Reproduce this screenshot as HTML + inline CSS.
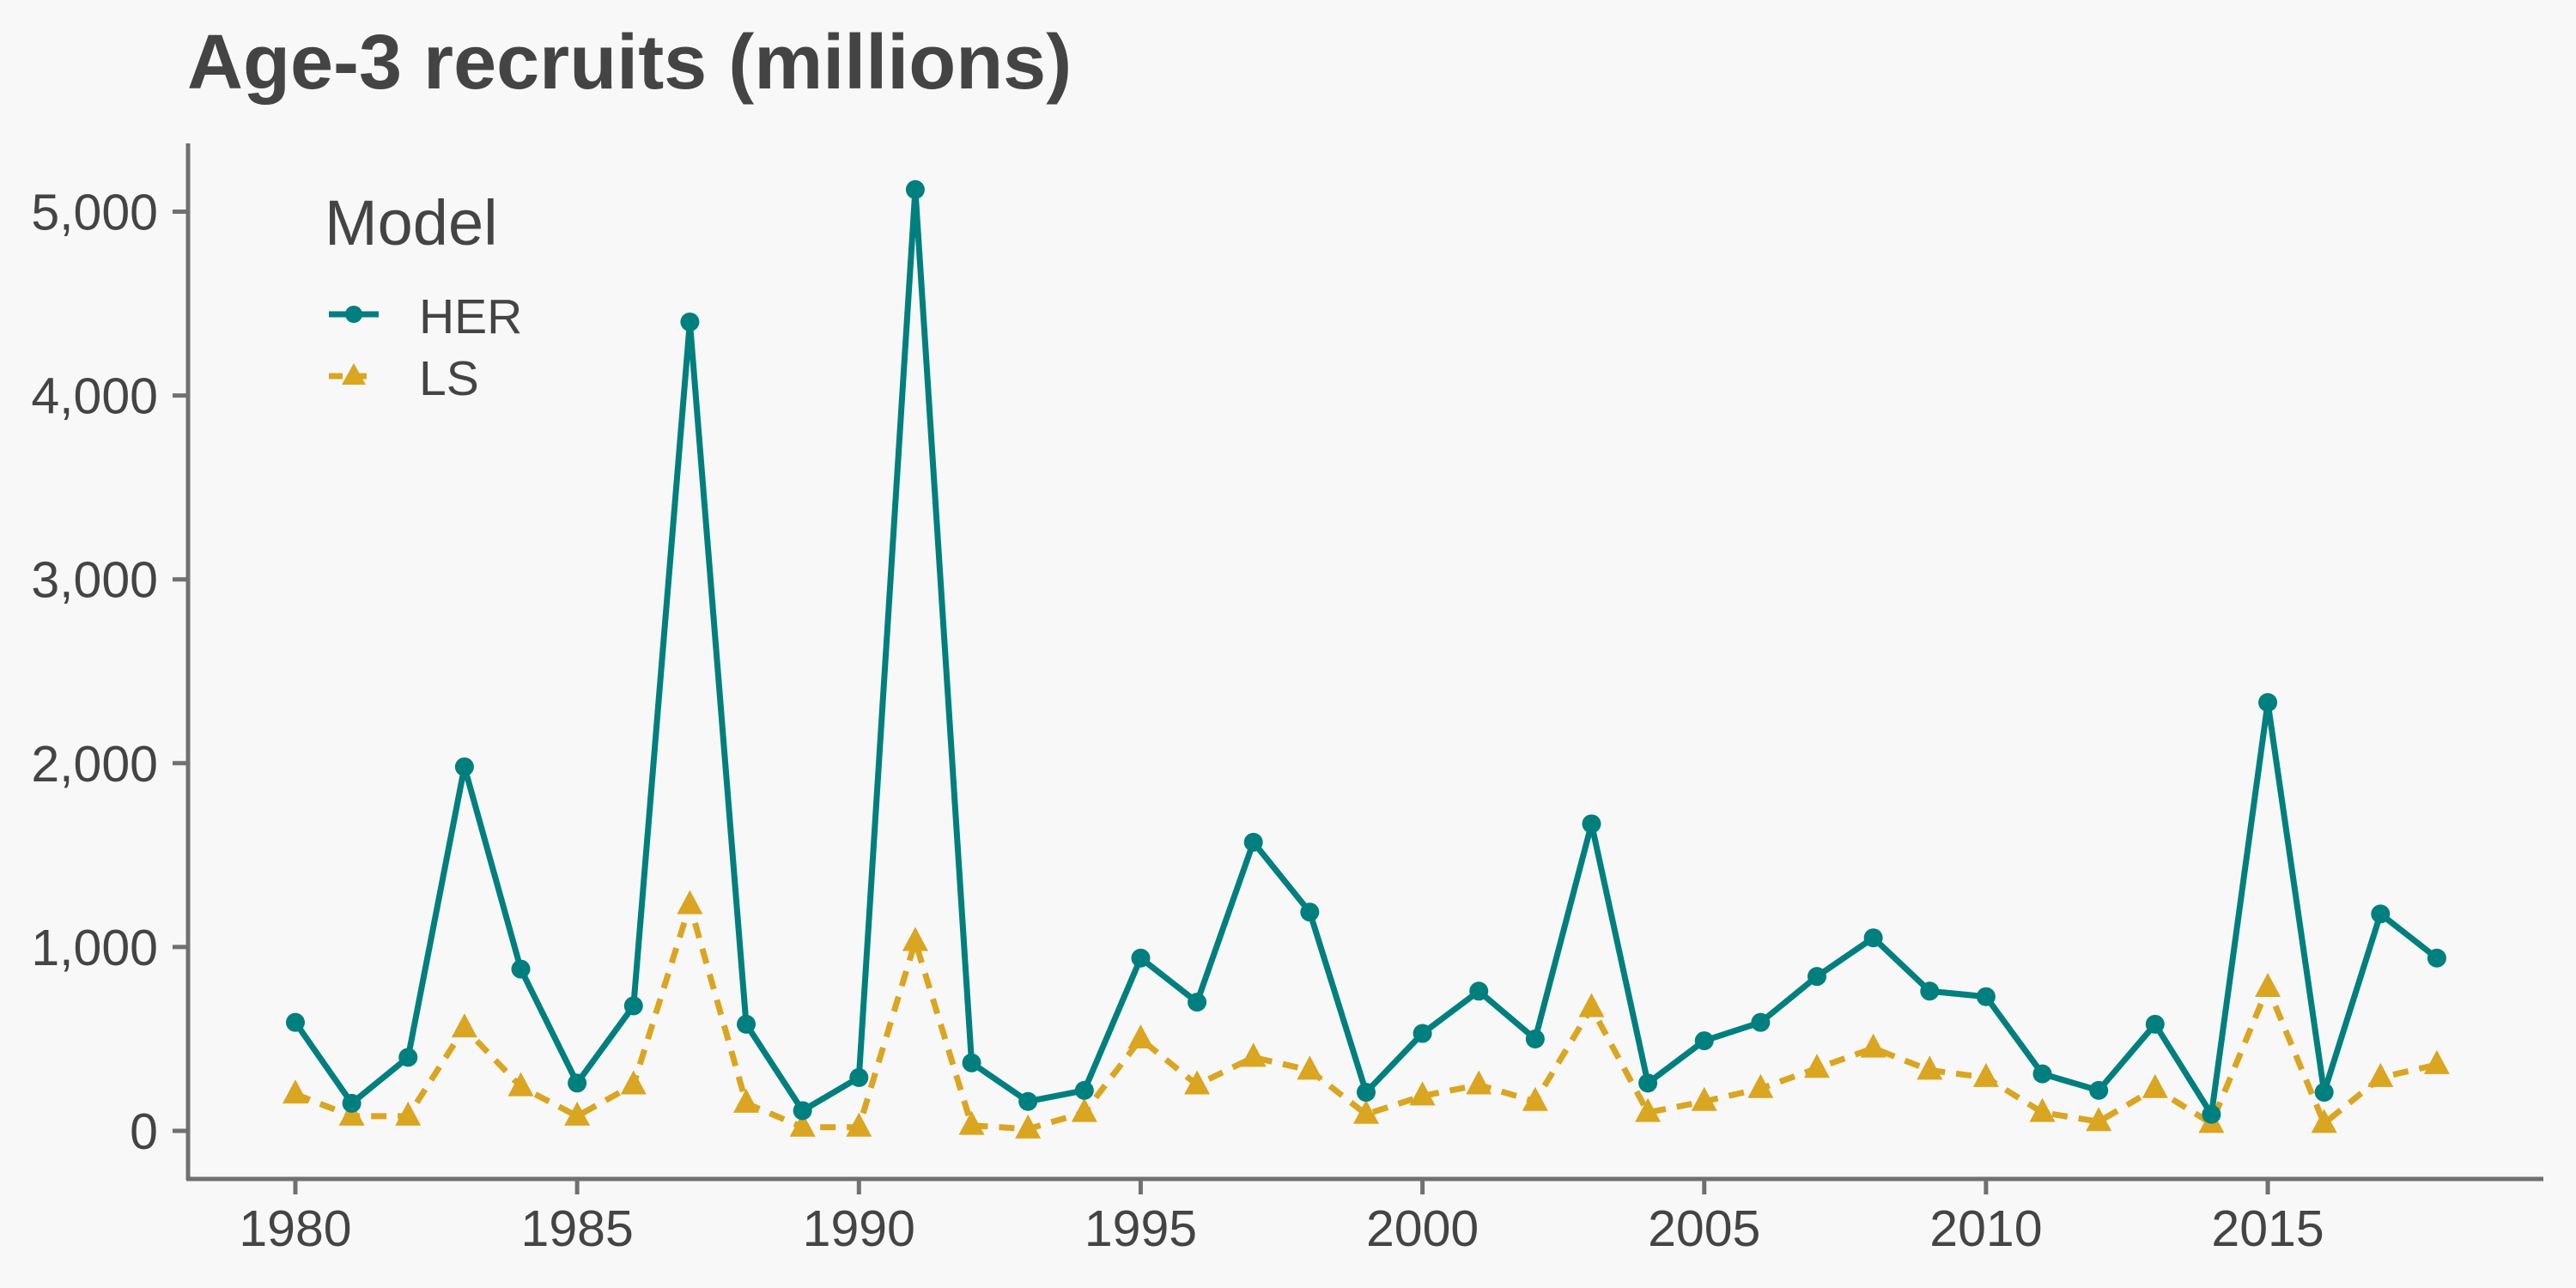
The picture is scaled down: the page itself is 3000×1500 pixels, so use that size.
<!DOCTYPE html>
<html><head><meta charset="utf-8"><style>
html,body{margin:0;padding:0;background:#f8f8f8;}
svg{display:block;font-family:"Liberation Sans",sans-serif;}
</style></head><body>
<svg id="chart" width="3000" height="1500" viewBox="0 0 3000 1500">
<rect width="3000" height="1500" fill="#f8f8f8"/>
<text x="218" y="103" font-size="90" font-weight="bold" fill="#444">Age-3 recruits (millions)</text>
<g id="axes"></g>
<g id="series"></g>
<g>
<text x="378" y="285" font-size="74" fill="#444">Model</text>
<g>
<line x1="383" y1="366" x2="441" y2="366" stroke="#007f7f" stroke-width="7"/>
<circle cx="412" cy="366" r="10" fill="#007f7f"/>
<text x="488" y="388" font-size="57" fill="#444">HER</text></g>
<g>
<line x1="383" y1="438" x2="431" y2="438" stroke="#daa520" stroke-width="7" stroke-dasharray="16,12"/>
<polygon points="412,423 426,448 398,448" fill="#daa520"/>
<text x="488" y="460" font-size="57" fill="#444">LS</text></g>
</g>
</svg>
<script>
const years = [1980,1981,1982,1983,1984,1985,1986,1987,1988,1989,1990,1991,1992,1993,1994,1995,1996,1997,1998,1999,2000,2001,2002,2003,2004,2005,2006,2007,2008,2009,2010,2011,2012,2013,2014,2015,2016,2017,2018];
const herValues = [590,150,400,1980,880,260,680,4400,580,110,290,5120,370,160,220,940,700,1570,1190,210,530,760,500,1670,260,490,590,840,1050,760,730,310,220,580,90,2330,210,1180,940];
const lsValues = [200,80,80,560,240,80,250,1230,150,20,20,1030,30,10,100,500,250,400,330,90,190,250,160,670,100,160,230,340,450,330,290,100,50,230,40,780,40,290,360];
const yTicks = [0,1000,2000,3000,4000,5000];
const yTickLabels = ["0","1,000","2,000","3,000","4,000","5,000"];
const xTicks = [1980,1985,1990,1995,2000,2005,2010,2015];

const NS = "http://www.w3.org/2000/svg";
const xs = y => 344 + (y - 1980) * 65.63;
const ys = v => 1317 - v * 0.2141;
function mk(tag, attrs, parent){const e=document.createElementNS(NS,tag);for(const k in attrs)e.setAttribute(k,attrs[k]);parent.appendChild(e);return e;}
const axes = document.getElementById('axes');
const series = document.getElementById('series');

let a = mk('line',{x1:219,y1:167,x2:219,y2:1374,stroke:'#707070','stroke-width':5},axes);


a = mk('line',{x1:217,y1:1373,x2:2962,y2:1373,stroke:'#707070','stroke-width':5},axes);



yTicks.forEach((v,i)=>{
  const t = mk('line',{x1:201,y1:ys(v),x2:219,y2:ys(v),stroke:'#707070','stroke-width':5},axes);
  
  
  const l = mk('text',{x:184,y:ys(v)+21,'font-size':59,fill:'#444','text-anchor':'end'},axes);
  l.textContent = yTickLabels[i];
  
  
});
xTicks.forEach(y=>{
  const t = mk('line',{x1:xs(y),y1:1373,x2:xs(y),y2:1391,stroke:'#707070','stroke-width':5},axes);
  
  
  const l = mk('text',{x:xs(y),y:1451,'font-size':59,fill:'#444','text-anchor':'middle'},axes);
  l.textContent = String(y);
  
  
});

const lsPts = years.map((y,i)=>xs(y)+','+ys(lsValues[i])).join(' ');
const lsLine = mk('polyline',{points:lsPts,fill:'none',stroke:'#daa520','stroke-width':7,'stroke-dasharray':'18,13','stroke-linejoin':'round'},series);


years.forEach((y,i)=>{
  const cx=xs(y), cy=ys(lsValues[i]);
  const p = mk('polygon',{points:`${cx},${cy-17} ${cx+15},${cy+11} ${cx-15},${cy+11}`,fill:'#daa520'},series);
  
  
});
const herPts = years.map((y,i)=>xs(y)+','+ys(herValues[i])).join(' ');
const herLine = mk('polyline',{points:herPts,fill:'none',stroke:'#007f7f','stroke-width':7,'stroke-linejoin':'round'},series);


years.forEach((y,i)=>{
  const c = mk('circle',{cx:xs(y),cy:ys(herValues[i]),r:11,fill:'#007f7f'},series);
  
  
});
</script>
</body></html>
